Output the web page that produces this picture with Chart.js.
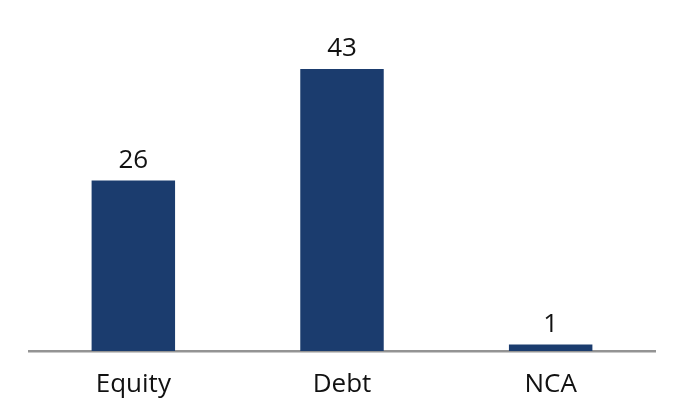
<!DOCTYPE html>
<html lang="en">
<head>
    <meta charset="UTF-8">
    <title>Equity / Debt / NCA</title>
    <style>
        body { margin: 0; background: #fff; }
        .wrap { width: 678px; height: 413px; }
    </style>
</head>
<body>
<div class="wrap"><canvas id="chart" width="678" height="413"></canvas></div>

<script src="https://cdn.jsdelivr.net/npm/chart.js@4.4.1/dist/chart.umd.min.js"></script>
<script>
    // Data
    const categories = ['Equity', 'Debt', 'NCA'];
    const values = [26, 43, 1];

    // Draws the value above each bar
    const valueLabels = {
        id: 'valueLabels',
        afterDatasetsDraw(chart) {
            const c = chart.ctx;
            const meta = chart.getDatasetMeta(0);
            c.save();
            c.font = '26px "Open Sans", sans-serif';
            c.fillStyle = '#111';
            c.textAlign = 'center';
            c.textBaseline = 'bottom';
            meta.data.forEach((bar, i) => {
                c.fillText(String(values[i]), bar.x, bar.y - 7);
            });
            c.restore();
        }
    };

    new Chart(document.getElementById('chart'), {
        type: 'bar',
        data: {
            labels: categories,
            datasets: [{
                data: values,
                backgroundColor: '#1b3c6e',
                barPercentage: 1,
                categoryPercentage: 0.4
            }]
        },
        options: {
            responsive: false,
            animation: false,
            layout: { padding: { left: 29, right: 23, top: 23, bottom: -5 } },
            plugins: { legend: { display: false }, tooltip: { enabled: false } },
            scales: {
                x: {
                    grid: { display: false, drawTicks: false },
                    border: { color: '#949494', width: 2.5 },
                    ticks: { color: '#111', padding: 21, font: { size: 26, lineHeight: 0.96, family: '"Open Sans", sans-serif' } }
                },
                y: {
                    display: false,
                    min: 0,
                    max: 50
                }
            }
        },
        plugins: [valueLabels]
    });
</script>
</body>
</html>
